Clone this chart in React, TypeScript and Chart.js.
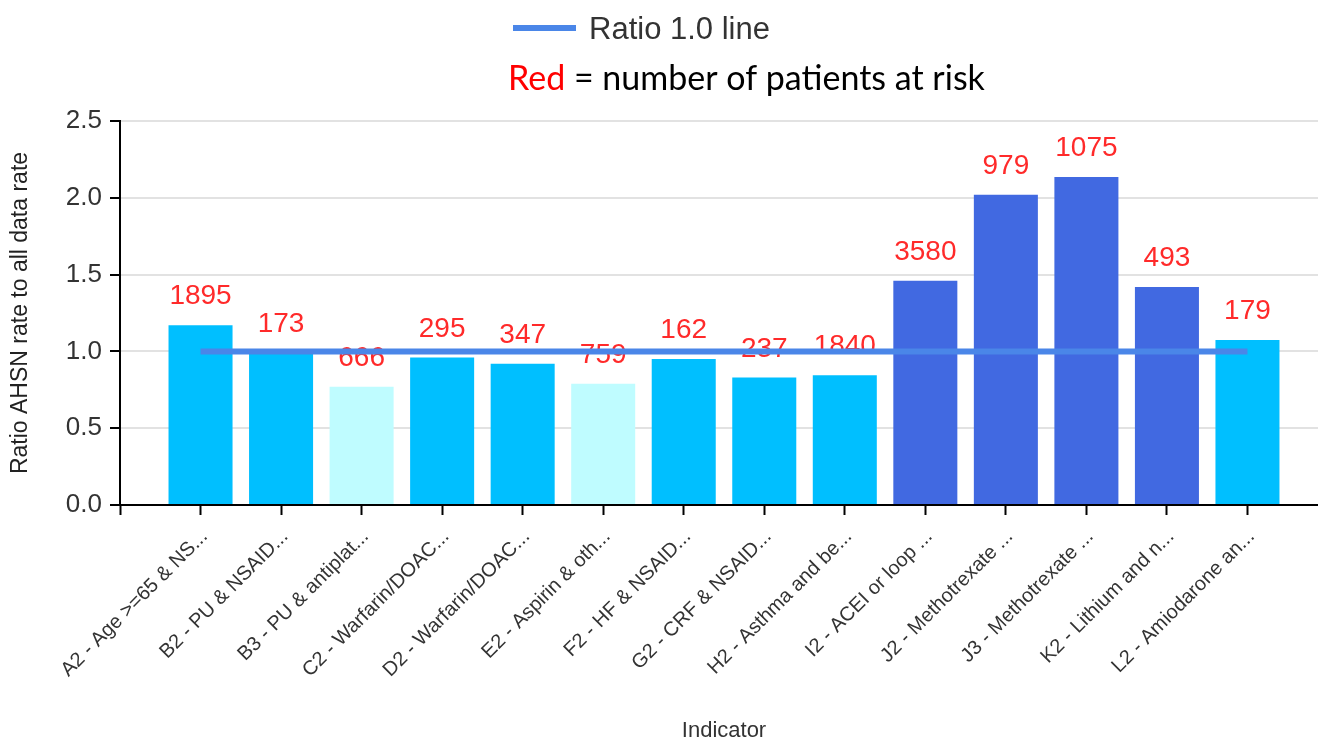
import React, { useEffect, useRef } from 'react';
import { Chart, registerables } from 'chart.js';

Chart.register(...registerables);

const categories = [
  'A2 - Age >=65 & NS...',
  'B2 - PU & NSAID...',
  'B3 - PU & antiplat...',
  'C2 - Warfarin/DOAC...',
  'D2 - Warfarin/DOAC...',
  'E2 - Aspirin & oth...',
  'F2 - HF & NSAID...',
  'G2 - CRF & NSAID...',
  'H2 - Asthma and be...',
  'I2 - ACEI or loop ...',
  'J2 - Methotrexate ...',
  'J3 - Methotrexate ...',
  'K2 - Lithium and n...',
  'L2 - Amiodarone an...',
];

const ratioValues = [1.17, 0.99, 0.77, 0.96, 0.92, 0.79, 0.95, 0.83, 0.845, 1.46, 2.02, 2.135, 1.42, 1.075];

const patientsAtRisk = [1895, 173, 666, 295, 347, 759, 162, 237, 1840, 3580, 979, 1075, 493, 179];

const referenceRatio = 1.0;

const barColors = [
  '#00bfff', '#00bfff', '#bffcff', '#00bfff', '#00bfff', '#bffcff', '#00bfff',
  '#00bfff', '#00bfff', '#4169e1', '#4169e1', '#4169e1', '#4169e1', '#00bfff',
];

const yTickValues = [0, 0.5, 1.0, 1.5, 2.0, 2.5];

const legendLabel = 'Ratio 1.0 line';
const noteRed = 'Red';
const noteRest = ' = number of patients at risk';
const xTitle = 'Indicator';
const yTitle = 'Ratio AHSN rate to all data rate';

export default function App() {
  const ref = useRef<HTMLCanvasElement>(null);

  useEffect(() => {
    if (!ref.current) return;
    Chart.defaults.font.family = '"Liberation Sans", Arial, sans-serif';

    const labels = ['', ...categories, ''];
    const bars = [null, ...ratioValues, null];
    const line = [null, ...categories.map(() => referenceRatio), null];
    const colors = ['rgba(0,0,0,0)', ...barColors, 'rgba(0,0,0,0)'];
    const counts = [null, ...patientsAtRisk, null];
    const lineColor = '#4a86e8';

    const overlay = {
      id: 'overlay',
      afterDatasetDraw(chart: any, args: any) {
        if (args.index !== 0) return;
        const ctx = chart.ctx;
        ctx.save();
        ctx.font = '28px "Liberation Sans", Arial, sans-serif';
        ctx.fillStyle = '#ff2a2a';
        ctx.textAlign = 'center';
        ctx.textBaseline = 'alphabetic';
        args.meta.data.forEach((el: any, i: number) => {
          const c = counts[i];
          if (c == null) return;
          ctx.fillText(String(c), el.x, el.y - 21);
        });
        ctx.restore();
      },
      afterDraw(chart: any) {
        const ctx = chart.ctx;
        ctx.save();
        // legend
        ctx.strokeStyle = lineColor;
        ctx.lineWidth = 6;
        ctx.beginPath();
        ctx.moveTo(513, 28);
        ctx.lineTo(576, 28);
        ctx.stroke();
        ctx.font = '31px "Liberation Sans", Arial, sans-serif';
        ctx.fillStyle = '#333';
        ctx.textAlign = 'left';
        ctx.textBaseline = 'alphabetic';
        ctx.fillText(legendLabel, 589, 39);
        // note
        ctx.font = '34px Lato, "Noto Sans", sans-serif';
        ctx.fillStyle = '#ff0000';
        ctx.fillText(noteRed, 508, 90);
        const w = ctx.measureText(noteRed).width;
        ctx.fillStyle = '#000';
        ctx.fillText(noteRest, 508 + w, 90);
        ctx.restore();
      },
    };

    const chart = new Chart(ref.current, {
      type: 'bar',
      data: {
        labels,
        datasets: [
          {
            type: 'bar',
            label: 'Ratio',
            data: bars as any,
            backgroundColor: colors,
            categoryPercentage: 1,
            barPercentage: 0.795,
            order: 1,
          },
          {
            type: 'line',
            label: legendLabel,
            data: line as any,
            borderColor: lineColor,
            backgroundColor: lineColor,
            borderWidth: 6,
            pointRadius: 0,
            fill: false,
            order: 0,
          },
        ],
      },
      options: {
        responsive: false,
        animation: false,
        devicePixelRatio: 1,
        events: [],
        layout: { padding: { top: 121, left: 0, right: 0, bottom: 0 } },
        plugins: {
          legend: { display: false },
          tooltip: { enabled: false },
        },
        scales: {
          x: {
            type: 'category',
            offset: false,
            border: { display: true, color: '#000', width: 2 },
            grid: {
              offset: false,
              drawOnChartArea: false,
              drawTicks: true,
              tickColor: '#000',
              tickLength: 10,
              tickWidth: 2,
            },
            ticks: {
              autoSkip: false,
              minRotation: 45,
              maxRotation: 45,
              color: '#333',
              padding: 10,
              labelOffset: 4,
              font: { size: 20 },
            },
            title: {
              display: true,
              text: xTitle,
              color: '#333',
              font: { size: 22, lineHeight: 1 },
              padding: { top: 0, bottom: 0 },
            },
            afterFit(scale: any) {
              scale.height = 237;
              scale.paddingLeft = 0;
              scale.paddingRight = 0;
            },
          },
          y: {
            min: 0,
            max: 2.5,
            border: { display: true, color: '#000', width: 2 },
            grid: {
              color: '#e2e2e2',
              lineWidth: 2,
              tickColor: '#000',
              tickLength: 10,
              tickWidth: 2,
            },
            afterBuildTicks(scale: any) {
              scale.ticks = yTickValues.map((v) => ({ value: v }));
            },
            ticks: {
              color: '#333',
              padding: 8,
              font: { size: 26 },
              callback: (v: any) => Number(v).toFixed(1),
            },
            title: {
              display: true,
              text: yTitle,
              color: '#222',
              font: { size: 23 },
              padding: { top: 7, bottom: 0 },
            },
            afterFit(scale: any) {
              scale.width = 120;
            },
          },
        },
      },
      plugins: [overlay],
    });

    return () => chart.destroy();
  }, []);

  return (
    <div
      style={{
        position: 'absolute',
        left: 0,
        top: 0,
        width: 1318,
        height: 742,
        overflow: 'hidden',
        background: '#fff',
      }}
    >
      <canvas ref={ref} width={1328} height={742} style={{ display: 'block', width: 1328, height: 742 }} />
    </div>
  );
}
